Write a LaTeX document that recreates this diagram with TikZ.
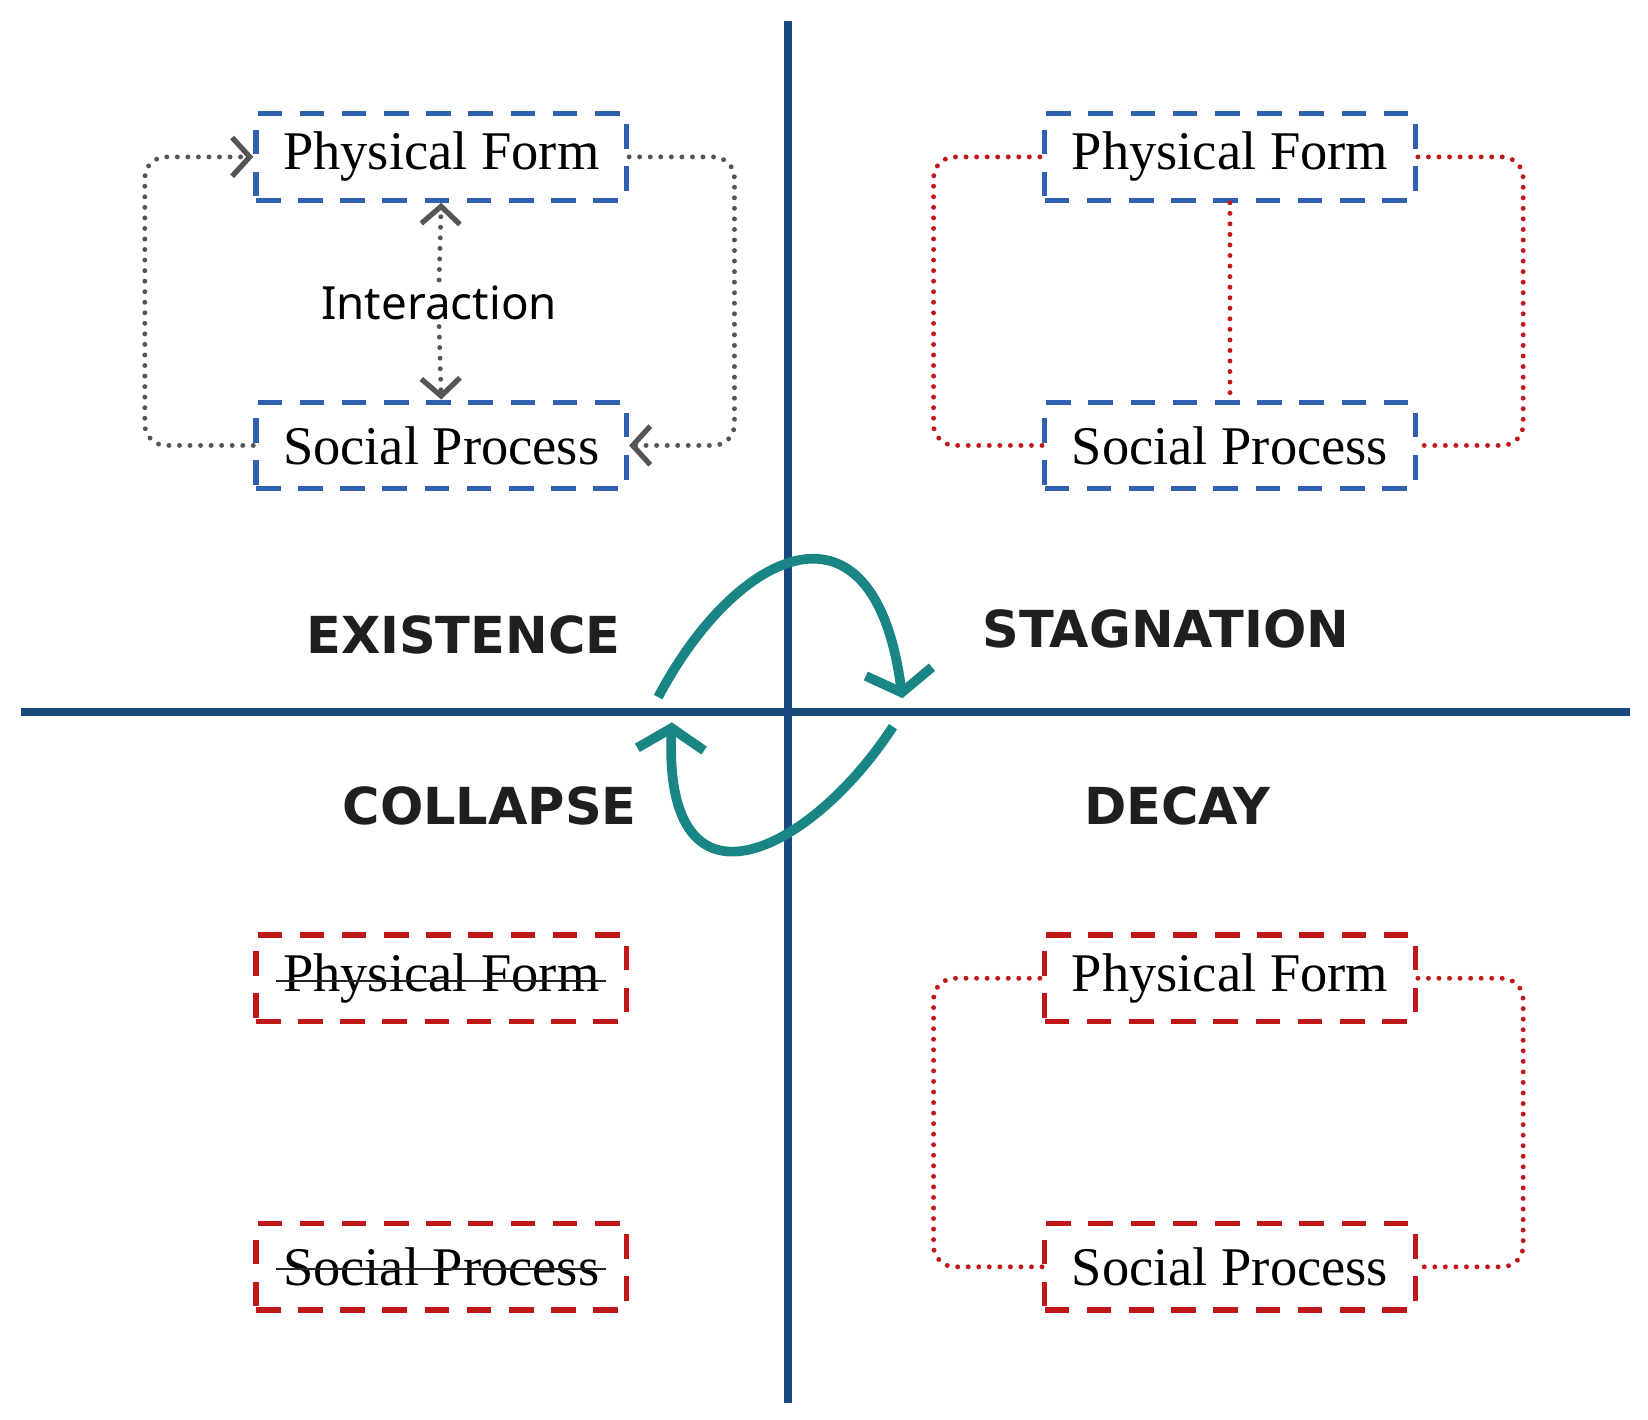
\documentclass[tikz,border=0pt]{standalone}
\usepackage{fontspec}
\setmainfont{Liberation Serif}
\newfontfamily\lab{Noto Sans}
\newfontfamily\labb{DejaVu Sans Bold}
\usetikzlibrary{arrows.meta}
\definecolor{axis}{HTML}{1A4A80}
\definecolor{bbox}{HTML}{3060B0}
\definecolor{rbox}{HTML}{C01818}
\definecolor{gdotc}{HTML}{555555}
\definecolor{teal}{HTML}{1A8585}
\begin{document}
\begin{tikzpicture}[x=0.02106cm,y=-0.02106cm,
 box/.style={draw=#1,line width=3pt,dash pattern=on 14pt off 10pt,minimum width=7.41cm,minimum height=1.73cm,inner sep=0pt,font=\fontsize{31}{31}\selectfont},
 gd/.style={draw=gdotc,line width=2.8pt,dash pattern=on 0pt off 6pt,line cap=round,rounded corners=12},
 rd/.style={draw=rbox,line width=2.8pt,dash pattern=on 0pt off 6pt,line cap=round,rounded corners=12},
 tip/.style={-{Straight Barb[length=10pt,width=22pt,line width=3pt]}},
 big/.style={font=\labb\fontsize{29}{29}\selectfont,text=black!88},
 strike/.style={line width=1.3pt,black!85},
 ar/.style={draw=teal,line width=5.5pt,-{Straight Barb[length=12pt,width=38pt,line width=5.5pt]}}]
\useasboundingbox (0,0) rectangle (1565,1348);
\draw[axis,line width=4.5pt] (748,20) coordinate(vt) -- (748,1332) coordinate(vb);
\draw[axis,line width=4.5pt] (20,676) coordinate(hl) -- (1548,676) coordinate(hr);
% TL
\node[box=bbox] (pf1) at (419,149) {Physical Form};
\node[box=bbox] (sp1) at (419,423) {Social Process};
\node[font=\lab\fontsize{26}{26}\selectfont] (int) at (417,288) {Interaction};
\draw[gd,tip] (sp1.west) -- ++(-103,0) |- (pf1.west);
\draw[gd,tip] (pf1.east) -- ++(100,0) |- (sp1.east);
\draw[gd,tip] (int.north) -- (pf1.south);
\draw[gd,tip] (int.south) -- (sp1.north);
% TR
\node[box=bbox] (pf2) at (1168,149) {Physical Form};
\node[box=bbox] (sp2) at (1168,423) {Social Process};
\draw[rd] (sp2.west) -- ++(-103,0) |- (pf2.west);
\draw[rd] (pf2.east) -- ++(100,0) |- (sp2.east);
\draw[rd] (pf2.south) -- (sp2.north);
% BL
\node[box=rbox] (pf3) at (419,929) {Physical Form};
\node[box=rbox] (sp3) at (419,1203) {Social Process};
\draw[strike] ([xshift=0.46cm,yshift=-0.05cm]pf3.west) -- ([xshift=-0.46cm,yshift=-0.05cm]pf3.east);
\draw[strike] ([xshift=0.46cm,yshift=-0.05cm]sp3.west) -- ([xshift=-0.46cm,yshift=-0.05cm]sp3.east);
% BR
\node[box=rbox] (pf4) at (1168,929) {Physical Form};
\node[box=rbox] (sp4) at (1168,1203) {Social Process};
\draw[rd] (sp4.west) -- ++(-103,0) |- (pf4.west);
\draw[rd] (pf4.east) -- ++(100,0) |- (sp4.east);
% labels
\node[big] (ex) at (440,603) {EXISTENCE};
\node[big] (st) at (1107,597) {STAGNATION};
\node[big] (co) at (465,765) {COLLAPSE};
\node[big] (de) at (1118,765) {DECAY};
% cycle
\coordinate (a1) at (625,662); \coordinate (a2) at (857,663);
\coordinate (b1) at (848,690); \coordinate (b2) at (638,686);
\draw[ar] (a1) .. controls (700,520) and (830,460) .. (a2);
\draw[ar] (b1) .. controls (770,810) and (630,880) .. (b2);
\end{tikzpicture}
\end{document}
